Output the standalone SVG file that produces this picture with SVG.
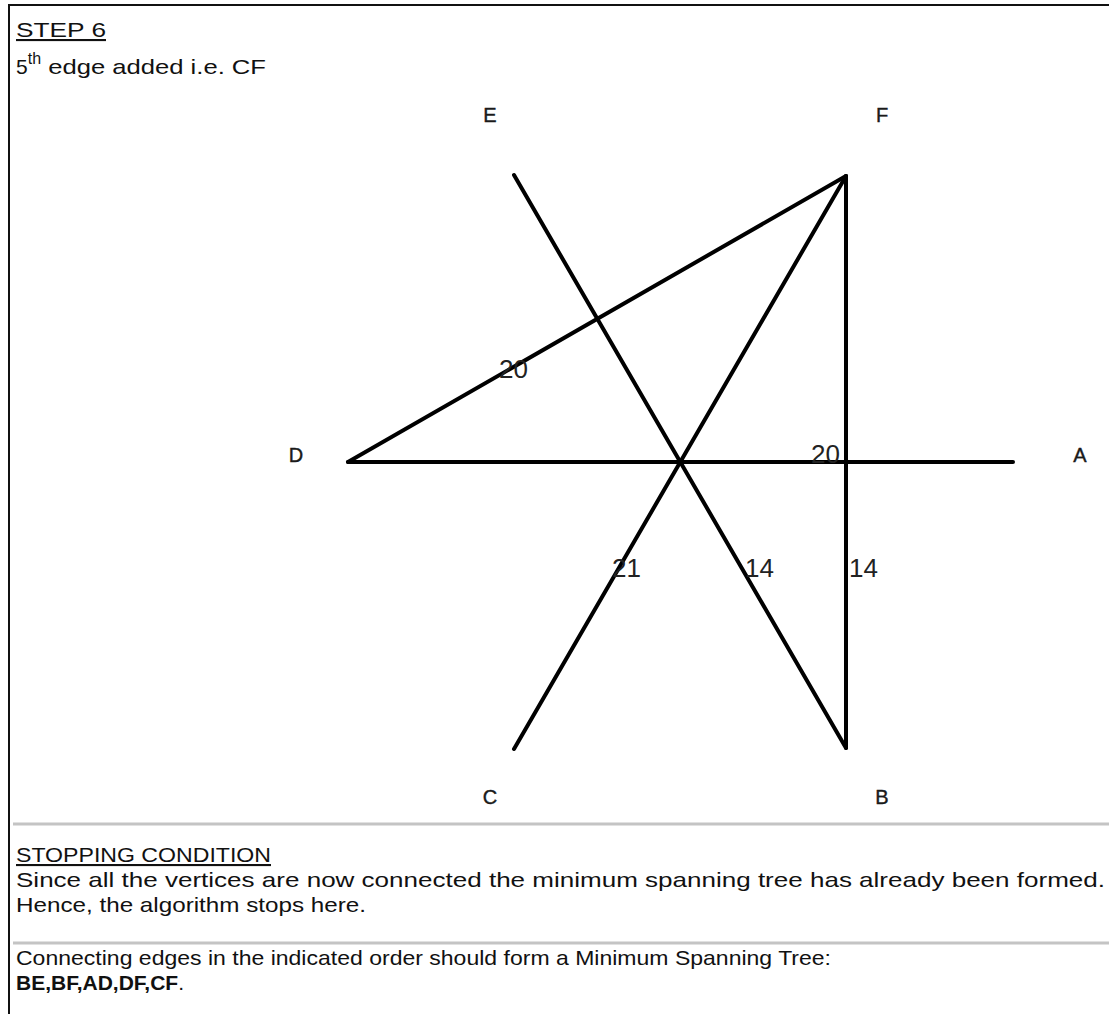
<svg xmlns="http://www.w3.org/2000/svg" width="1109" height="1014" viewBox="0 0 1109 1014">
<style>
.t{font-family:"Liberation Sans",Arial,sans-serif;font-size:21px;fill:#111}
.v{font-family:"Liberation Sans",Arial,sans-serif;font-size:20px;fill:#1a1a1a;text-anchor:middle;stroke:#1a1a1a;stroke-width:0.4}
.w{font-family:"Liberation Sans",Arial,sans-serif;font-size:26px;fill:#222}
.e{stroke:#000;stroke-width:4;stroke-linecap:round;fill:none}
.sep{stroke:#c4c4c4;stroke-width:3}
</style>
<rect width="1109" height="1014" fill="#fff"/>
<path d="M9 1014 V5 H1109" fill="none" stroke="#111" stroke-width="2"/>
<text class="t" x="16" y="37" font-size="22" textLength="90" lengthAdjust="spacingAndGlyphs" text-decoration="underline">STEP 6</text>
<text class="t" x="16" y="74" font-size="23">5<tspan dy="-10" font-size="16">th</tspan><tspan dy="10" textLength="225" lengthAdjust="spacingAndGlyphs"> edge added i.e. CF</tspan></text>
<g id="edges">
<line class="e" x1="514" y1="175" x2="846" y2="748"/>
<line class="e" x1="846" y1="176" x2="514" y2="749"/>
<line class="e" x1="348" y1="462" x2="1013" y2="462"/>
<line class="e" x1="348" y1="462" x2="846" y2="176"/>
<line class="e" x1="846" y1="176" x2="846" y2="748"/>
</g>
<g id="node-E"><text class="v" x="490" y="122">E</text></g>
<g id="node-F"><text class="v" x="882" y="122">F</text></g>
<g id="node-D"><text class="v" x="296" y="462">D</text></g>
<g id="node-A"><text class="v" x="1080" y="462">A</text></g>
<g id="node-C"><text class="v" x="490" y="804">C</text></g>
<g id="node-B"><text class="v" x="882" y="804">B</text></g>
<g id="weights">
<text class="w" x="499" y="378">20</text>
<text class="w" x="811" y="463">20</text>
<text class="w" x="612" y="577">21</text>
<text class="w" x="745" y="577">14</text>
<text class="w" x="849" y="577">14</text>
</g>
<line class="sep" x1="13" y1="824" x2="1109" y2="824"/>
<text class="t" x="16" y="862" textLength="255" lengthAdjust="spacingAndGlyphs" text-decoration="underline">STOPPING CONDITION</text>
<text class="t" x="16" y="887" textLength="1089" lengthAdjust="spacingAndGlyphs">Since all the vertices are now connected the minimum spanning tree has already been formed.</text>
<text class="t" x="16" y="912" textLength="350" lengthAdjust="spacingAndGlyphs">Hence, the algorithm stops here.</text>
<line class="sep" x1="13" y1="943" x2="1109" y2="943"/>
<text class="t" x="16" y="965" textLength="815" lengthAdjust="spacingAndGlyphs">Connecting edges in the indicated order should form a Minimum Spanning Tree:</text>
<text class="t" x="16" y="990"><tspan font-weight="bold">BE,BF,AD,DF,CF</tspan>.</text>
</svg>
